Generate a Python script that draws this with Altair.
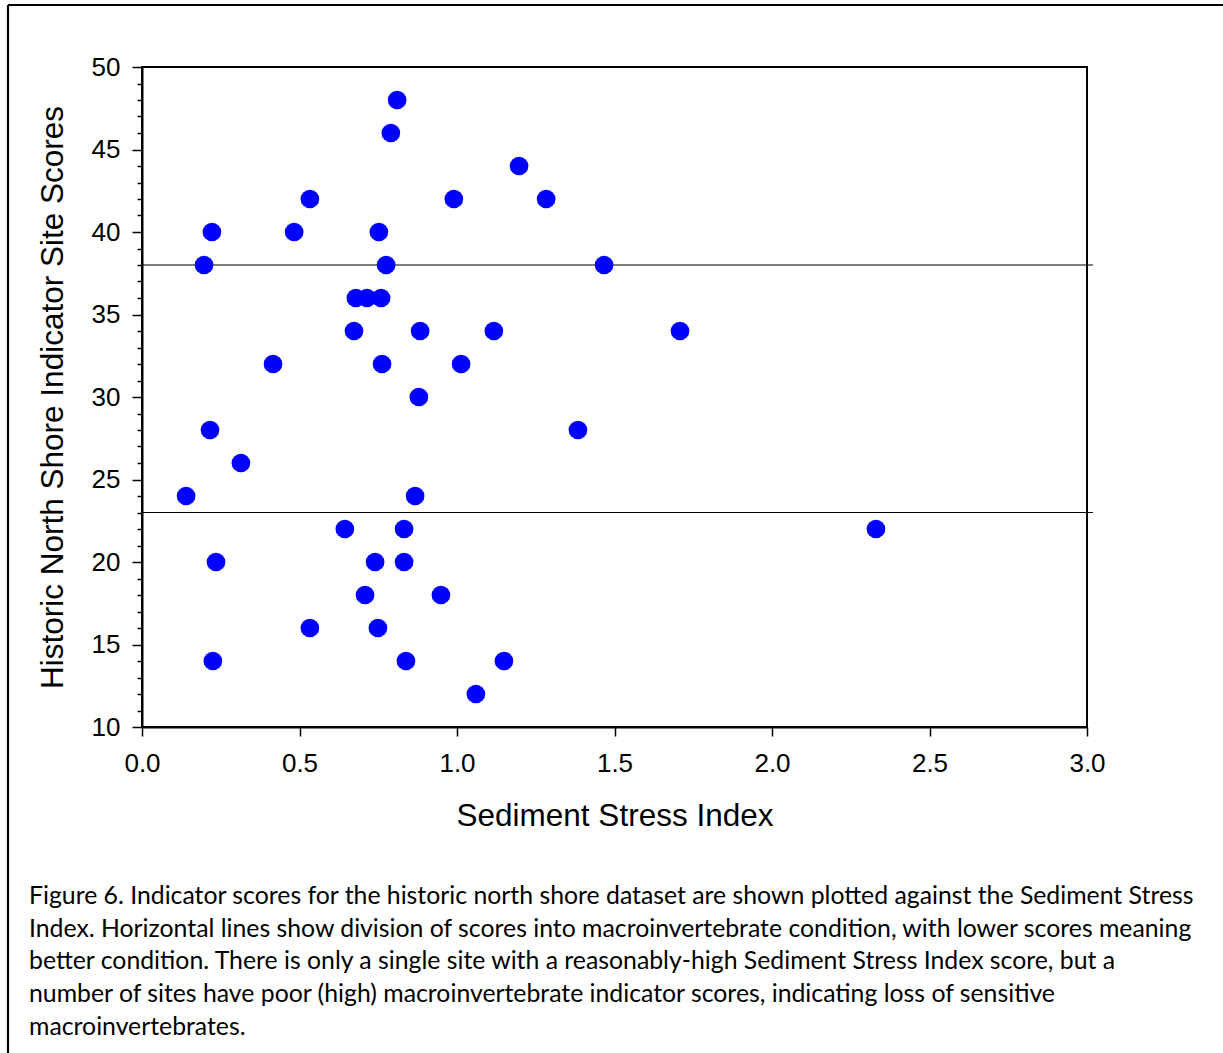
import altair as alt
import pandas as pd

sediment_stress_index = [0.14, 0.197, 0.222, 0.216, 0.235, 0.225, 0.314, 0.416, 0.483, 0.533,
                         0.533, 0.644, 0.673, 0.679, 0.714, 0.708, 0.740, 0.749, 0.752, 0.759,
                         0.762, 0.775, 0.790, 0.810, 0.832, 0.832, 0.838, 0.867, 0.879, 0.883,
                         0.949, 0.990, 1.013, 1.060, 1.117, 1.149, 1.197, 1.283, 1.384, 1.467,
                         1.708, 2.330]
site_scores = [24, 38, 40, 28, 20, 14, 26, 32, 40, 42,
               16, 22, 34, 36, 36, 18, 20, 16, 40, 36,
               32, 38, 46, 48, 22, 20, 14, 24, 30, 34,
               18, 42, 32, 12, 34, 14, 44, 42, 28, 38,
               34, 22]
condition_thresholds = [38, 23]
x_ticks = [0.0, 0.5, 1.0, 1.5, 2.0, 2.5, 3.0]
y_ticks = list(range(10, 51))
caption_lines = [
    "Figure 6. Indicator scores for the historic north shore dataset are shown plotted against the Sediment Stress",
    "Index. Horizontal lines show division of scores into macroinvertebrate condition, with lower scores meaning",
    "better condition. There is only a single site with a reasonably-high Sediment Stress Index score, but a",
    "number of sites have poor (high) macroinvertebrate indicator scores, indicating loss of sensitive",
    "macroinvertebrates.",
]

df = pd.DataFrame({"ssi": sediment_stress_index, "score": site_scores})
thr = pd.DataFrame({"score": condition_thresholds})
one = pd.DataFrame({"k": [0]})

AXFONT = "Liberation Sans"

x_axis = alt.Axis(values=x_ticks, format=".1f", tickSize=9, tickWidth=1.5, tickColor="black",
                  domainColor="black", domainWidth=2, labelFont=AXFONT, labelFontSize=26,
                  labelColor="black", labelPadding=14, labelFlush=False, labelOverlap=False,
                  titleFont=AXFONT, titleFontSize=31.5, titleFontWeight="normal", titleColor="black",
                  titlePadding=24, grid=False)
y_axis = alt.Axis(values=y_ticks,
                  labelExpr="datum.value % 5 === 0 ? datum.label : ''",
                  tickSize={"condition": {"test": "datum.value % 5 === 0", "value": 10}, "value": 5},
                  tickWidth=1.5, tickColor="black", domainColor="black", domainWidth=2,
                  labelFont=AXFONT, labelFontSize=26, labelColor="black", labelPadding=12,
                  labelFlush=False, labelOverlap=False, labelBound=False,
                  titleFont=AXFONT, titleFontSize=31.5, titleFontWeight="normal", titleColor="black",
                  titlePadding=22, grid=False)

x_scale = alt.Scale(domain=[0, 3], nice=False, zero=False)
y_scale = alt.Scale(domain=[10, 50], nice=False, zero=False)

x_enc = alt.X("ssi:Q", title="Sediment Stress Index", scale=x_scale, axis=x_axis)
y_enc = alt.Y("score:Q", title="Historic North Shore Indicator Site Scores", scale=y_scale, axis=y_axis)

lines = alt.Chart(thr).mark_rule(color="black", strokeWidth=1.2).encode(
    y=alt.Y("score:Q", title="Historic North Shore Indicator Site Scores", scale=y_scale, axis=y_axis),
    x=alt.value(0), x2=alt.value(951)
)
points = alt.Chart(df).mark_circle(size=350, color="#0000FF", opacity=1).encode(x=x_enc, y=y_enc)

frame_left = alt.Chart(one).mark_rule(color="black", strokeWidth=2.2).encode(
    x=alt.value(-134), y=alt.value(-62), y2=alt.value(990)
)
frame_top = alt.Chart(one).mark_rule(color="black", strokeWidth=2.2).encode(
    x=alt.value(-134), x2=alt.value(1085), y=alt.value(-62)
)
caption = alt.Chart(one).mark_text(
    text=caption_lines, align="left", baseline="top", font="Lato", fontSize=24.8,
    lineHeight=32.7, color="black"
).encode(x=alt.value(-113), y=alt.value(817))

chart = alt.layer(lines, points, frame_left, frame_top, caption).properties(
    width=945,
    height=660,
    background="white",
    autosize=alt.AutoSizeParams(type="none"),
    padding={"left": 142, "top": 67, "right": 136, "bottom": 326},
).configure_view(stroke="black", strokeWidth=2).configure_axis(labelOverlap=False)

chart.save("out.html", embed_options={"renderer": "svg", "actions": False})
